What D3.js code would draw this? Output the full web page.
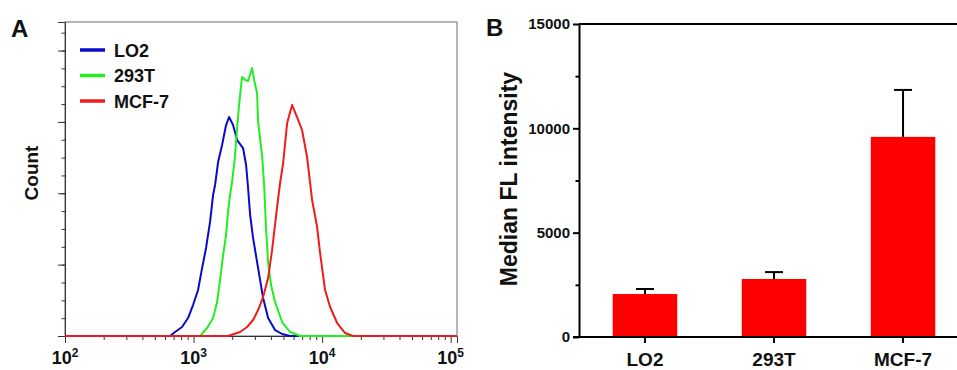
<!DOCTYPE html>
<html>
<head>
<meta charset="utf-8">
<script src="https://cdn.jsdelivr.net/npm/d3@7.9.0/dist/d3.min.js"></script>
<style>
  body { margin: 0; background: #fff; }
  svg { display: block; font-family: Arial, 'Liberation Sans', sans-serif; font-weight: bold; }
</style>
</head>
<body>
<svg id="chart" width="957" height="370"></svg>
<script>
// ---- panel A: flow cytometry histograms, [fluorescence, count]
const lo2Hist = [
  [100, 0], [656, 0], [718, 2.8], [813, 6.3], [906, 12.6], [991, 21.7], [1084, 32.2],
  [1165, 47.6], [1251, 61.7], [1344, 79.9], [1419, 98.8], [1470, 105.8], [1552, 121.9],
  [1667, 133.8], [1790, 147.8], [1889, 153.4], [2029, 147.8], [2181, 137.3], [2427, 131.7],
  [2563, 119.8], [2656, 103.7], [2754, 84.8], [2904, 68.7], [3177, 47.6], [3475, 26.6],
  [3802, 12.6], [4305, 4.2], [4886, 1.4], [5636, 0], [112000, 0]
];
const t293Hist = [
  [100, 0], [1124, 0], [1274, 5.6], [1419, 12.6], [1524, 23.8], [1607, 39.2], [1698, 56.7],
  [1790, 70.8], [1854, 86.9], [1923, 98.8], [1995, 107.9], [2103, 126.8], [2181, 145.7],
  [2259, 161.8], [2384, 181.5], [2518, 179.4], [2656, 178.7], [2851, 187.8], [2958, 179.4],
  [3119, 170.2], [3177, 149.9], [3412, 126.8], [3540, 105.8], [3667, 74.3], [3802, 51.8],
  [4009, 35.7], [4305, 23.8], [4886, 9.8], [5636, 2.8], [6745, 0], [112000, 0]
];
const mcf7Hist = [
  [100, 0], [1854, 0], [2301, 2.8], [2608, 6.3], [2904, 11.2], [3177, 18.2], [3475, 27.3],
  [3802, 40.6], [4083, 60.3], [4467, 90.4], [4713, 107.2], [4977, 121.2], [5343, 149.2],
  [5846, 161.8], [6383, 153.4], [6982, 144.3], [7638, 125.4], [8358, 95.3], [9141, 76.4],
  [9645, 58.1], [10545, 32.2], [11534, 20.3], [13092, 9.1], [15100, 2.1], [17418, 0], [112000, 0]
];
const histNames = ['LO2', '293T', 'MCF-7'];
const histColors = ['#0a0acc', '#22ee22', '#ee1c1c'];
const decades = [2, 3, 4, 5];
const countTicks = [0, 50, 100, 150, 200];

// ---- panel B: median FL intensity
const cells = ['LO2', '293T', 'MCF-7'];
const medians = [2060, 2780, 9590];
const errors = [240, 330, 2250];
const medianTicks = [0, 5000, 10000, 15000];

const svg = d3.select('#chart');

// ================= panel A =================
const boxA = { left: 65, right: 457, top: 22, bottom: 336 };

const xA = d3.scaleLog().domain([100, 112000]).range([boxA.left, boxA.right]);
const yA = d3.scaleLinear().domain([0, 220]).range([boxA.bottom, boxA.top]);

svg.append('rect')
  .attr('x', boxA.left).attr('y', boxA.top)
  .attr('width', boxA.right - boxA.left).attr('height', boxA.bottom - boxA.top)
  .attr('fill', 'none').attr('stroke', '#6b6b6b').attr('stroke-width', 1);

const minorX = [];
decades.forEach((p) => {
  for (let k = 2; k <= 9; k++) {
    const v = k * Math.pow(10, p);
    if (v < 112000) minorX.push(v);
  }
});

svg.append('g')
  .attr('class', 'x-minor')
  .attr('transform', `translate(0,${boxA.bottom})`)
  .call(d3.axisBottom(xA).tickValues(minorX).tickSize(4).tickFormat(''))
  .call((g) => g.select('.domain').remove());

svg.append('g')
  .attr('class', 'x-major')
  .attr('transform', `translate(0,${boxA.bottom})`)
  .call(d3.axisBottom(xA).tickValues(decades.map((p) => Math.pow(10, p))).tickSize(7).tickFormat(''))
  .call((g) => g.select('.domain').attr('stroke', '#333'));

svg.selectAll('g.x-minor line, g.x-major line').attr('stroke', '#333');

const xLabels = svg.append('g').attr('class', 'x-labels');
decades.forEach((p) => {
  const t = xLabels.append('text')
    .attr('x', xA(Math.pow(10, p)))
    .attr('y', 364)
    .attr('text-anchor', 'middle')
    .attr('font-size', 18)
    .attr('fill', '#111');
  t.append('tspan').text('10');
  t.append('tspan').attr('font-size', 12).attr('dy', -7).text(p);
});

svg.append('g')
  .attr('class', 'y-minor')
  .attr('transform', `translate(${boxA.left},0)`)
  .call(d3.axisLeft(yA).tickValues(d3.range(0, 220, 12.5)).tickSize(3.5).tickFormat(''))
  .call((g) => g.select('.domain').remove());

svg.append('g')
  .attr('class', 'y-major')
  .attr('transform', `translate(${boxA.left},0)`)
  .call(d3.axisLeft(yA).tickValues(countTicks).tickSize(7).tickFormat(''))
  .call((g) => g.select('.domain').attr('stroke', '#333'));

svg.selectAll('g.y-minor line, g.y-major line').attr('stroke', '#333');

const line = d3.line()
  .x((d) => xA(d[0]))
  .y((d) => yA(d[1]));

[lo2Hist, t293Hist, mcf7Hist].forEach((hist, i) => {
  svg.append('path')
    .datum(hist)
    .attr('d', line)
    .attr('fill', 'none')
    .attr('stroke', histColors[i])
    .attr('stroke-width', 2)
    .attr('stroke-linejoin', 'round');
});

// legend
const legend = svg.append('g').attr('class', 'legend');
histNames.forEach((name, i) => {
  const y = 50 + i * 25.5;
  legend.append('line')
    .attr('x1', 80).attr('x2', 105)
    .attr('y1', y).attr('y2', y)
    .attr('stroke', histColors[i])
    .attr('stroke-width', 3.5);
  legend.append('text')
    .attr('x', 114).attr('y', y + 6.5)
    .attr('font-size', 18)
    .attr('fill', '#111')
    .text(name);
});

svg.append('text')
  .attr('transform', 'translate(38,173) rotate(-90)')
  .attr('text-anchor', 'middle')
  .attr('font-size', 19)
  .attr('fill', '#111')
  .text('Count');

svg.append('text')
  .attr('x', 11).attr('y', 37)
  .attr('font-size', 24)
  .attr('fill', '#111')
  .text('A');

// ================= panel B =================
const axB = { left: 579, bottom: 337 };

const yB = d3.scaleLinear().domain([0, 15000]).range([axB.bottom, 24]);
const xB = d3.scaleBand().domain(cells).range([574, 974]).paddingInner(0.5).paddingOuter(0.3);

svg.append('g')
  .selectAll('rect')
  .data(cells)
  .join('rect')
  .attr('x', (d) => xB(d))
  .attr('y', (d, i) => yB(medians[i]))
  .attr('width', xB.bandwidth())
  .attr('height', (d, i) => yB(0) - yB(medians[i]))
  .attr('fill', '#ff0000');

const errG = svg.append('g').attr('class', 'error-bars');
cells.forEach((c, i) => {
  const cx = xB(c) + xB.bandwidth() / 2;
  errG.append('line')
    .attr('x1', cx).attr('x2', cx)
    .attr('y1', yB(medians[i])).attr('y2', yB(medians[i] + errors[i]))
    .attr('stroke', '#000').attr('stroke-width', 2);
  errG.append('line')
    .attr('x1', cx - 9).attr('x2', cx + 9)
    .attr('y1', yB(medians[i] + errors[i])).attr('y2', yB(medians[i] + errors[i]))
    .attr('stroke', '#000').attr('stroke-width', 2);
});

svg.append('g')
  .attr('class', 'yb-minor')
  .attr('transform', `translate(${axB.left},0)`)
  .call(d3.axisLeft(yB).tickValues([2500, 7500, 12500]).tickSize(3.5).tickFormat(''))
  .call((g) => g.select('.domain').remove());

svg.append('g')
  .attr('class', 'yb-major')
  .attr('transform', `translate(${axB.left},0)`)
  .call(d3.axisLeft(yB).tickValues(medianTicks).tickSize(6).tickSizeOuter(0).tickPadding(3).tickFormat(d3.format('d')))
  .call((g) => g.selectAll('text').attr('font-size', 15).attr('fill', '#111').attr('font-family', null));

svg.selectAll('g.yb-minor line, g.yb-major line, g.yb-major .domain').attr('stroke', '#000').attr('stroke-width', 2);

// top rule at 15000
svg.append('line')
  .attr('x1', axB.left).attr('x2', 957)
  .attr('y1', yB(15000)).attr('y2', yB(15000))
  .attr('stroke', '#000').attr('stroke-width', 2);

svg.append('g')
  .attr('class', 'xb-axis')
  .attr('transform', `translate(0,${axB.bottom})`)
  .call(d3.axisBottom(xB).tickSize(6).tickSizeOuter(0).tickPadding(10))
  .call((g) => g.selectAll('text').attr('font-size', 19).attr('fill', '#111').attr('font-family', null))
  .call((g) => g.selectAll('line, .domain').attr('stroke', '#000').attr('stroke-width', 2));

svg.select('g.xb-axis .domain').attr('d', `M${axB.left - 6},0H957`);

svg.append('text')
  .attr('transform', 'translate(517,179) rotate(-90)')
  .attr('text-anchor', 'middle')
  .attr('font-size', 23)
  .attr('fill', '#111')
  .text('Median FL intensity');

svg.append('text')
  .attr('x', 486).attr('y', 36)
  .attr('font-size', 24)
  .attr('fill', '#111')
  .text('B');
</script>
</body>
</html>
